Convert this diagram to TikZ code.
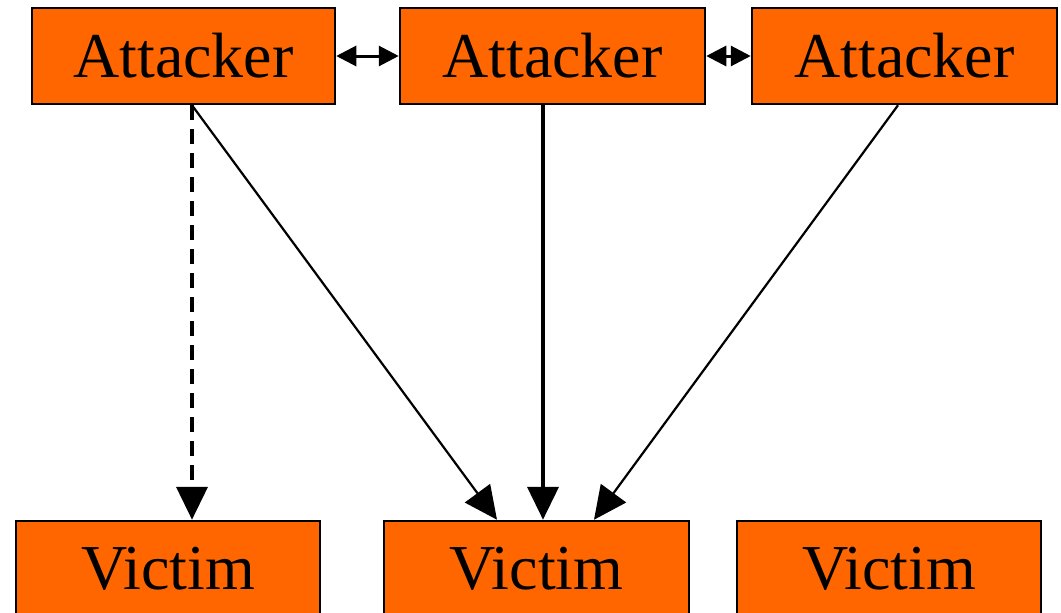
\documentclass[tikz,border=0pt]{standalone}
\usepackage{fontspec}
\setmainfont{Liberation Serif}
\usetikzlibrary{arrows.meta}
\definecolor{boxorange}{HTML}{FF6600}
\begin{document}
\begin{tikzpicture}[x=1pt,y=-1pt,
  party/.style={draw=black,line width=2.5pt,fill=boxorange,rectangle,
    minimum height=96pt,inner sep=0pt,font=\fontsize{64}{64}\selectfont},
  bigtip/.style={-{Triangle[width=31pt,length=33pt]}},
  linktip/.style={{Triangle[width=20pt,length=20pt]}-{Triangle[width=20pt,length=20pt]}}
]
\useasboundingbox (0,0) rectangle (1061,613);
\clip (0,0) rectangle (1061,613);
% attackers
\node[party,minimum width=303pt] (a1) at (183.5,56) {Attacker};
\node[party,minimum width=305pt] (a2) at (552.5,56) {Attacker};
\node[party,minimum width=305pt] (a3) at (904.5,56) {Attacker};
% victims
\node[party,minimum width=304pt] (v1) at (168,569) {Victim};
\node[party,minimum width=305pt] (v2) at (536.5,569) {Victim};
\node[party,minimum width=304pt] (v3) at (889,569) {Victim};
% links between attackers
\draw[linktip,line width=3pt] (a1.east) -- (a2.west);
\draw[linktip,line width=3pt] (a2.east) -- (a3.west);
% attacks
\draw[bigtip,line width=4pt,dash pattern=on 15pt off 9pt] ([xshift=8.5pt]a1.south) -- ([xshift=24pt]v1.north);
\draw[bigtip,line width=2.2pt] ([xshift=8.5pt]a1.south) -- ([xshift=-39.5pt]v2.north);
\draw[bigtip,line width=4pt] ([xshift=-9.5pt]a2.south) -- ([xshift=6.5pt]v2.north);
\draw[bigtip,line width=2.2pt] ([xshift=-6.5pt]a3.south) -- ([xshift=57.5pt]v2.north);
\end{tikzpicture}
\end{document}
